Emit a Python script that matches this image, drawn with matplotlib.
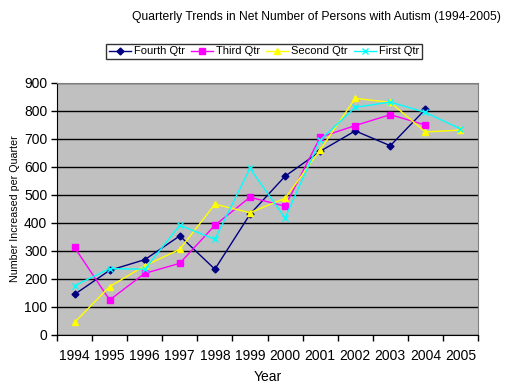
import numpy as np
import matplotlib
matplotlib.use("Agg")
import matplotlib.pyplot as plt

# Data
years = ["1994", "1995", "1996", "1997", "1998", "1999",
         "2000", "2001", "2002", "2003", "2004", "2005"]
fourth_qtr = [145, 231, 269, 354, 235, 431, 567, 656, 729, 676, 806, np.nan]
third_qtr = [313, 125, 220, 256, 392, 492, 460, 706, 748, 787, 750, np.nan]
second_qtr = [45, 173, 247, 306, 467, 437, 488, 661, 845, 831, 725, 732]
first_qtr = [176, 237, 235, 392, 342, 595, 418, 696, 813, 832, 795, 736]

plt.rcParams['font.family'] = ['Liberation Sans', 'DejaVu Sans']

fig = plt.figure(figsize=(5.07, 3.91), dpi=100)
ax = fig.add_axes([57 / 507, 56 / 391, 421 / 507, 252 / 391])
ax.set_facecolor('#C0C0C0')

x = np.arange(len(years))
ax.plot(x, fourth_qtr, color='#000080', marker='D', markersize=3.5, lw=1, label='Fourth Qtr')
ax.plot(x, third_qtr, color='#FF00FF', marker='s', markersize=5, lw=1, label='Third Qtr')
ax.plot(x, second_qtr, color='#FFFF00', marker='^', markersize=5, lw=1, label='Second Qtr')
ax.plot(x, first_qtr, color='#00FFFF', marker='x', markersize=4, mew=1, lw=1, label='First Qtr')

ax.set_xlim(-0.5, len(years) - 0.5)
ax.set_ylim(0, 900)
ax.set_yticks(np.arange(0, 901, 100))
ax.yaxis.grid(True, color='black', lw=1)
ax.set_axisbelow(True)

ax.set_xticks(np.arange(-0.5, len(years)), labels=[''] * (len(years) + 1))
ax.set_xticks(x, labels=years, minor=True)
ax.tick_params(axis='x', which='major', length=4, width=1, color='black')
ax.tick_params(axis='x', which='minor', length=0, pad=10, labelsize=10)
ax.tick_params(axis='y', length=4, width=1, labelsize=10, pad=3)

for s in ['top', 'right']:
    ax.spines[s].set_color('#808080')
for s in ['left', 'bottom']:
    ax.spines[s].set_color('black')

ax.set_xlabel('Year', fontsize=10, labelpad=5)
ax.set_ylabel('Number Increased per Quarter', fontsize=7.7, labelpad=3)

fig.text(316 / 507, 1 - 17 / 391, 'Quarterly Trends in Net Number of Persons with Autism (1994-2005)',
         ha='center', va='center', fontsize=8.7)

leg = fig.legend(loc='center', bbox_to_anchor=(264 / 507, 1 - 51.5 / 391), ncol=4,
                 fontsize=8, frameon=True, fancybox=False, edgecolor='black',
                 handlelength=2.0, handletextpad=0.3, columnspacing=0.5,
                 borderpad=0.25, borderaxespad=0)
leg.get_frame().set_linewidth(1)

fig.savefig('out.png', dpi=100)
